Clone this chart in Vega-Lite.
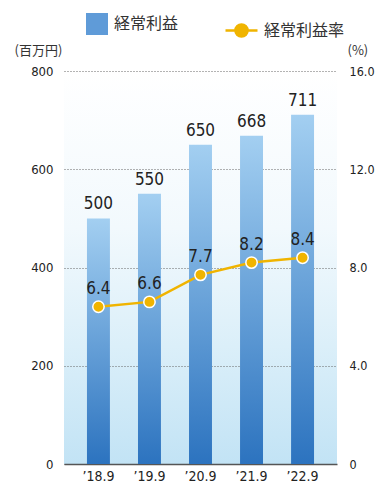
{
  "$schema": "https://vega.github.io/schema/vega-lite/v6.json",
  "width": 273,
  "height": 393,
  "autosize": {"type": "none"},
  "padding": {"left": 64, "top": 71, "right": 38, "bottom": 20},
  "background": "#ffffff",
  "config": {
    "view": {
      "stroke": null,
      "fill": {
        "gradient": "linear", "x1": 0, "y1": 0, "x2": 0, "y2": 1,
        "stops": [
          {"offset": 0, "color": "#ffffff"},
          {"offset": 0.4, "color": "#f2f9fd"},
          {"offset": 0.7, "color": "#dbeff9"},
          {"offset": 1, "color": "#c2e3f5"}
        ]
      }
    },
    "font": "Liberation Sans Narrow, DejaVu Sans Condensed, sans-serif"
  },
  "data": {
    "values": [
      {"year": "’18.9", "profit": 500, "rate": 6.4, "s1": "経常利益", "s2": "経常利益率"},
      {"year": "’19.9", "profit": 550, "rate": 6.6, "s1": "経常利益", "s2": "経常利益率"},
      {"year": "’20.9", "profit": 650, "rate": 7.7, "s1": "経常利益", "s2": "経常利益率"},
      {"year": "’21.9", "profit": 668, "rate": 8.2, "s1": "経常利益", "s2": "経常利益率"},
      {"year": "’22.9", "profit": 711, "rate": 8.4, "s1": "経常利益", "s2": "経常利益率"}
    ]
  },
  "encoding": {
    "x": {
      "field": "year", "type": "nominal", "sort": null,
      "scale": {"paddingInner": 0.55, "paddingOuter": 0.45},
      "axis": {
        "title": null, "labelAngle": 0, "ticks": false,
        "domainColor": "#555555", "domainWidth": 1.5,
        "labelFontSize": 14, "labelColor": "#222222", "labelPadding": 5
      }
    }
  },
  "layer": [
    {
      "encoding": {
        "y": {
          "field": "profit", "type": "quantitative",
          "scale": {"domain": [0, 800], "nice": false},
          "axis": {
            "title": "(百万円)", "titleAngle": 0, "titleAlign": "left", "titleBaseline": "middle",
            "titleX": -50, "titleY": -21, "titleFont": "Noto Sans CJK JP", "titleFontSize": 13,
            "titleFontWeight": "normal", "titleColor": "#333333",
            "values": [0, 200, 400, 600, 800], "domain": false, "ticks": false,
            "labelPadding": 11, "labelFontSize": 13, "labelColor": "#222222",
            "grid": true, "gridDash": [1, 2], "gridColor": "#666666", "gridWidth": 1
          }
        }
      },
      "layer": [
        {
          "mark": {
            "type": "bar",
            "color": {
              "gradient": "linear", "x1": 0, "y1": 0, "x2": 0, "y2": 1,
              "stops": [
                {"offset": 0, "color": "#a3cff1"},
                {"offset": 1, "color": "#2c73bf"}
              ]
            }
          }
        },
        {
          "mark": {"type": "square", "opacity": 0, "size": 1},
          "encoding": {
            "fill": {
              "field": "s1", "type": "nominal",
              "scale": {"range": ["#5f9bd8"]},
              "legend": {
                "orient": "none", "legendX": 22, "legendY": -58, "title": null,
                "symbolType": "square", "symbolSize": 484, "symbolOpacity": 1,
                "symbolStrokeWidth": 0,
                "labelFont": "Noto Sans CJK JP", "labelFontSize": 16, "labelColor": "#333333",
                "labelOffset": 6
              }
            }
          }
        },
        {
          "mark": {"type": "text", "baseline": "bottom", "dy": -5, "fontSize": 17, "color": "#222222"},
          "encoding": {"text": {"field": "profit", "type": "quantitative"}}
        }
      ]
    },
    {
      "encoding": {
        "y": {
          "field": "rate", "type": "quantitative",
          "scale": {"domain": [0, 16], "nice": false},
          "axis": {
            "orient": "right",
            "title": "(%)", "titleAngle": 0, "titleAlign": "left", "titleBaseline": "middle",
            "titleX": 10, "titleY": -21, "titleFont": "Noto Sans CJK JP", "titleFontSize": 13,
            "titleFontWeight": "normal", "titleColor": "#333333",
            "values": [0, 4, 8, 12, 16], "domain": false, "ticks": false, "grid": false,
            "labelExpr": "datum.value == 0 ? '0' : format(datum.value, '.1f')",
            "labelPadding": 12, "labelFontSize": 12.5, "labelColor": "#222222"
          }
        }
      },
      "layer": [
        {
          "mark": {"type": "line", "strokeWidth": 2.5},
          "encoding": {
            "stroke": {
              "field": "s2", "type": "nominal",
              "scale": {"range": ["#f0b400"]},
              "legend": {
                "orient": "none", "legendX": 160, "legendY": -58, "title": null,
                "symbolType": "M-1,0H-0.38M0.38,0H1M0.38,0A0.38,0.38,0,1,1,-0.38,0A0.38,0.38,0,1,1,0.38,0Z",
                "symbolSize": 1024, "symbolFillColor": "#f0b400", "symbolStrokeWidth": 2.5,
                "labelFont": "Noto Sans CJK JP", "labelFontSize": 16, "labelColor": "#333333",
                "labelOffset": 5
              }
            }
          }
        },
        {
          "mark": {"type": "point", "filled": true, "shape": "circle", "size": 130, "fill": "#f0b400", "stroke": "#ffffff", "strokeWidth": 1.5, "opacity": 1}
        },
        {
          "mark": {"type": "text", "baseline": "bottom", "dy": -9, "fontSize": 17, "color": "#222222"},
          "encoding": {"text": {"field": "rate", "type": "quantitative", "format": ".1f"}}
        }
      ]
    }
  ],
  "resolve": {"scale": {"y": "independent", "fill": "independent", "stroke": "independent"}}
}
